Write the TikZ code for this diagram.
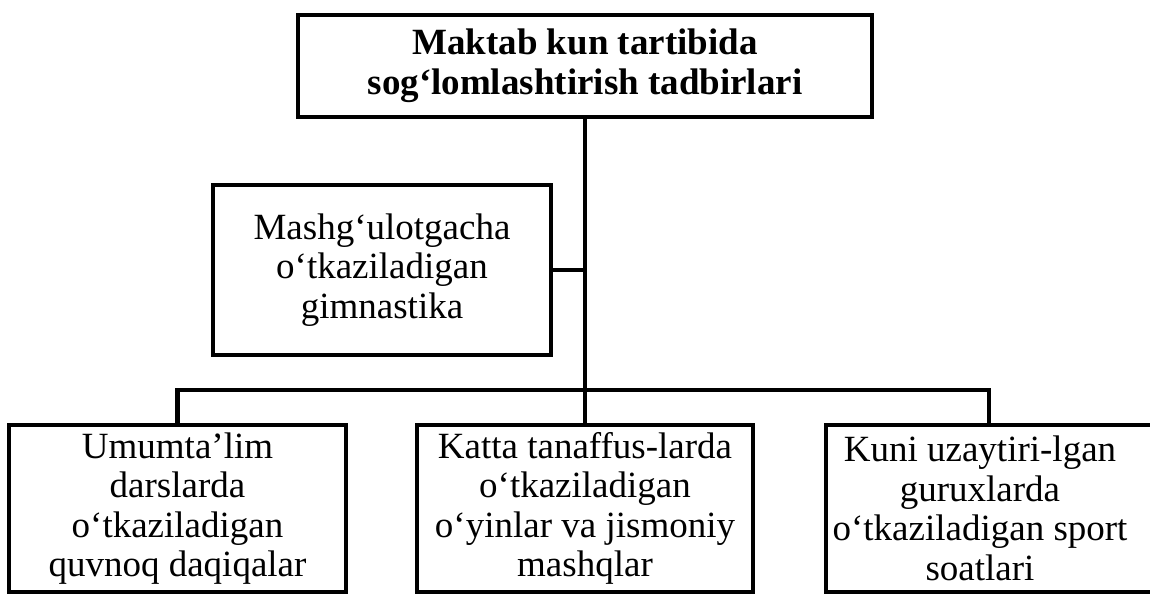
\documentclass[tikz,border=0pt]{standalone}
\usepackage{fontspec}
\setmainfont{Liberation Serif}
\begin{document}
\begin{tikzpicture}[x=1pt,y=1pt,
  box/.style={draw, line width=4pt, rectangle, align=center, inner sep=2pt,
    font=\fontsize{37}{39.5}\selectfont},
  txt/.style={align=center, inner sep=2pt, font=\fontsize{37}{39.5}\selectfont},
  conn/.style={line width=4.5pt}]
\useasboundingbox (0,0) rectangle (1150,-596);
\fill[white] (0,0) rectangle (1150,-596);
\node[box, minimum width=574pt, minimum height=102pt,
  font=\bfseries\fontsize{37}{40}\selectfont] (top) at (585,-66)
  {Maktab kun tartibida\\sog‘lomlashtirish tadbirlari};
\node[box, minimum width=338pt, minimum height=170pt] (gym) at (382,-270)
  {Mashg‘ulotgacha\\o‘tkaziladigan\\gimnastika};
\node[box, minimum width=337pt, minimum height=167pt] (b1) at (177.5,-508.5)
  {Umumta’lim\\darslarda\\o‘tkaziladigan\\quvnoq daqiqalar};
\node[box, minimum width=336pt, minimum height=167pt] (b2) at (585,-508.5)
  {Katta tanaffus-larda\\o‘tkaziladigan\\o‘yinlar va jismoniy\\mashqlar};
\node[box, minimum width=326pt, minimum height=167pt] (b3) at (989,-508.5) {};
\node[txt] (b3t) at ([xshift=-9pt]b3.center)
  {Kuni uzaytiri-lgan\\guruxlarda\\o‘tkaziladigan sport\\soatlari};
\coordinate (j) at (585,-390);
\draw[conn] (top.south) -- (j);
\draw[conn] (gym.east) -- (gym.east -| j);
\draw[conn] (b1.north) |- (j) -| (b3.north);
\draw[conn] (j) -- (b2.north);
\end{tikzpicture}
\end{document}
